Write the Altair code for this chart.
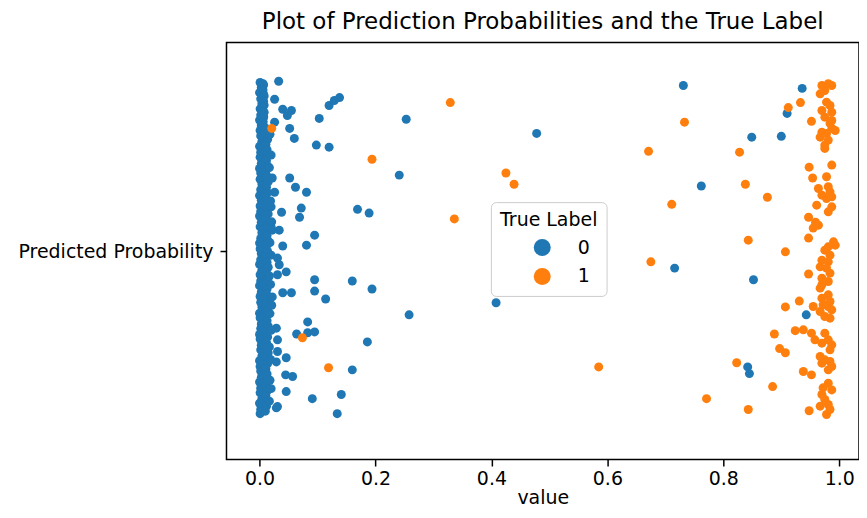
import altair as alt
import pandas as pd

# ---- Data (x = predicted probability, y = strip jitter offset) ----
# dense column of label-0 points near 0
col_a_x = [0.001,0.003,0.000,0.002,0.004,0.001,0.002,0.000,0.003,0.001,
           0.002,0.004,0.000,0.002,0.001,0.003,0.000,0.002,0.001,0.004,
           0.002,0.000,0.003,0.001,0.002,0.000,0.003,0.001,0.004,0.002,
           0.000,0.001,0.003,0.002,0.000,0.004,0.001,0.002,0.000,0.003,
           0.001,0.002,0.004,0.000,0.001,0.003,0.002,0.000,0.001,0.003,
           0.002,0.004,0.000,0.001,0.002,0.003,0.000,0.002,0.001,0.004,
           0.000,0.002,0.001]
col_a_y = [0.404,0.392,0.380,0.365,0.353,0.341,0.326,0.314,0.301,0.289,
           0.276,0.262,0.251,0.237,0.225,0.210,0.198,0.187,0.172,0.161,
           0.147,0.133,0.122,0.108,0.095,0.084,0.069,0.058,0.044,0.030,
           0.019,0.005,-0.006,-0.021,-0.032,-0.046,-0.057,-0.072,-0.083,-0.098,
           -0.109,-0.123,-0.134,-0.149,-0.160,-0.175,-0.186,-0.200,-0.211,-0.226,
           -0.237,-0.252,-0.263,-0.277,-0.288,-0.303,-0.314,-0.329,-0.340,-0.354,
           -0.365,-0.380,-0.390]
col_m_x = [0.006,0.005,0.007,0.006,0.008,0.005,0.007,0.006,0.005,0.007,
           0.006,0.008,0.005,0.007,0.006,0.005,0.008,0.006,0.007,0.005,
           0.006,0.008,0.007,0.005,0.006,0.007,0.005,0.008,0.006,0.007,
           0.005,0.006,0.008,0.007,0.005,0.006,0.007,0.008,0.005,0.006,
           0.007,0.005,0.006,0.008,0.007,0.005,0.006,0.007,0.008,0.005,
           0.006,0.007,0.005,0.008,0.006,0.007,0.005,0.006,0.008,0.007,
           0.005,0.006]
col_m_y = [0.401,0.388,0.376,0.362,0.350,0.337,0.323,0.311,0.298,0.285,
           0.272,0.259,0.247,0.233,0.221,0.207,0.195,0.182,0.169,0.156,
           0.143,0.130,0.118,0.104,0.092,0.079,0.066,0.053,0.041,0.027,
           0.015,0.002,-0.011,-0.024,-0.036,-0.049,-0.062,-0.075,-0.088,-0.100,
           -0.113,-0.126,-0.139,-0.152,-0.164,-0.177,-0.190,-0.203,-0.216,-0.228,
           -0.241,-0.254,-0.267,-0.280,-0.292,-0.305,-0.318,-0.331,-0.344,-0.356,
           -0.369,-0.382]
col_b_x = [0.007,0.006,0.008,0.007,0.006,0.008,0.007,0.006,0.010,0.012,
           0.014,0.011,0.013,0.015,0.012,0.014,0.011,0.013,0.015,0.012,
           0.014,0.011,0.013,0.012,0.015,0.011,0.014,0.012,0.013,0.015,
           0.012,0.014,0.011,0.013,0.015,0.012,0.014,0.011,0.013,0.012,
           0.015,0.011,0.014,0.012,0.013,0.015,0.011,0.014,0.012,0.013,
           0.015,0.012,0.014,0.011,0.013,0.015,0.012,0.014,0.011,0.013,
           0.012,0.010]
col_b_y = [0.398,0.386,0.372,0.359,0.347,0.333,0.320,0.307,0.295,0.282,
           0.268,0.256,0.243,0.230,0.217,0.204,0.192,0.179,0.166,0.153,
           0.140,0.127,0.114,0.102,0.089,0.076,0.063,0.050,0.037,0.024,
           0.012,-0.001,-0.014,-0.027,-0.039,-0.052,-0.065,-0.078,-0.091,-0.103,
           -0.116,-0.129,-0.142,-0.155,-0.167,-0.180,-0.193,-0.206,-0.219,-0.231,
           -0.244,-0.257,-0.270,-0.283,-0.295,-0.308,-0.321,-0.334,-0.347,-0.359,
           -0.372,-0.384]
col_c_x = [0.018,0.020,0.017,0.019,0.021,0.018,0.020,0.017,0.019,0.021,
           0.018,0.020,0.017,0.019,0.018,0.020,0.017]
col_c_y = [0.28,0.23,0.20,0.12,0.07,0.02,-0.01,-0.06,-0.08,-0.13,
           -0.15,-0.19,-0.23,-0.26,-0.31,-0.33,-0.36]

# scattered label-0 points
blue_x = [0.033,0.026,0.120,0.129,0.138,0.040,0.055,0.048,0.103,0.253,
          0.026,0.052,0.060,0.098,0.120,0.241,0.022,0.052,0.062,0.081,
          0.026,0.169,0.189,0.038,0.072,0.069,0.034,0.022,0.095,0.081,
          0.040,0.034,0.046,0.095,0.160,0.194,0.095,0.040,0.055,0.022,
          0.114,0.258,0.083,0.064,0.083,0.095,0.031,0.186,0.029,0.046,
          0.160,0.045,0.057,0.046,0.091,0.141,0.031,0.134,0.408,0.478,
          0.731,0.936,0.910,0.849,0.900,0.762,0.716,0.852,0.943,0.842,
          0.845,0.020,0.020,0.031,0.031,0.029,0.031,0.029]
blue_y = [0.407,0.364,0.349,0.361,0.368,0.340,0.337,0.325,0.318,0.316,
          0.309,0.294,0.270,0.254,0.249,0.182,0.175,0.175,0.153,0.141,
          0.141,0.100,0.091,0.093,0.103,0.081,0.050,0.050,0.038,0.014,
          0.012,-0.033,-0.050,-0.069,-0.072,-0.091,-0.096,-0.100,-0.100,-0.110,
          -0.115,-0.153,-0.170,-0.199,-0.196,-0.194,-0.213,-0.218,-0.266,-0.256,
          -0.285,-0.297,-0.301,-0.337,-0.354,-0.344,-0.373,-0.390,-0.124,0.282,
          0.397,0.390,0.330,0.273,0.275,0.156,-0.041,-0.069,-0.153,-0.278,
          -0.294,0.106,0.058,-0.017,-0.057,-0.185,-0.241,-0.376]

# scattered label-1 points
orange_x = [0.329,0.021,0.194,0.336,0.425,0.439,0.585,0.074,0.119,0.671,
            0.675,0.912,0.933,0.952,0.733,0.828,0.838,0.876,0.711,0.843,
            0.907,0.947,0.907,0.931,0.888,0.924,0.938,0.897,0.907,0.823,
            0.938,0.952,0.885,0.771,0.843,0.948,0.948,0.954,0.947,0.959,
            0.964,0.955,0.947]
orange_y = [0.356,0.294,0.220,0.077,0.187,0.160,-0.278,-0.208,-0.280,0.239,
            -0.026,0.344,0.356,0.311,0.309,0.237,0.160,0.129,0.112,0.026,
            -0.002,-0.055,-0.134,-0.120,-0.199,-0.191,-0.189,-0.234,-0.244,-0.268,
            -0.289,-0.297,-0.325,-0.354,-0.380,-0.383,0.201,0.175,0.081,0.069,
            0.062,0.055,0.031]
# dense column of label-1 points near 1
ocol_x = [0.970,0.981,0.987,0.967,0.975,0.978,0.984,0.970,0.987,0.975,
          0.987,0.984,0.987,0.970,0.978,0.993,0.967,0.981,0.975,0.975,
          0.987,0.978,0.964,0.981,0.984,0.970,0.978,0.987,0.961,0.987,
          0.981,0.990,0.993,0.981,
          0.975,0.984,0.970,0.981,0.967,0.978,0.984,0.970,0.981,0.970,
          0.967,0.981,0.970,0.984,0.972,0.981,0.987,0.967,0.975,0.984,
          0.955,0.952,0.975,0.958,0.970,0.981,0.987,0.984,0.967,0.975,
          0.970,0.984,0.987,0.981,0.981,0.972,0.987,0.970,0.975,0.981,
          0.967,0.984,0.978]
ocol_y = [0.397,0.401,0.397,0.377,0.385,0.357,0.349,0.337,0.333,0.321,
          0.313,0.306,0.294,0.285,0.282,0.289,0.273,0.266,0.254,0.246,
          0.206,0.178,0.150,0.154,0.142,0.134,0.126,0.130,0.110,0.106,
          0.094,0.022,0.014,0.010,
          0.002,-0.010,-0.022,-0.026,-0.038,-0.041,-0.053,-0.065,-0.073,-0.081,
          -0.089,-0.105,-0.113,-0.121,-0.129,-0.133,-0.141,-0.145,-0.157,-0.161,
          -0.133,-0.197,-0.197,-0.213,-0.221,-0.213,-0.225,-0.237,-0.253,-0.261,
          -0.269,-0.265,-0.277,-0.285,-0.317,-0.328,-0.333,-0.344,-0.356,-0.368,
          -0.372,-0.380,-0.392]

labels = ["0", "1"]
colors = ["#1f77b4", "#ff7f0e"]
x_ticks = [0.0, 0.2, 0.4, 0.6, 0.8, 1.0]

zero_x = col_a_x + col_m_x + col_b_x + col_c_x + blue_x
zero_y = col_a_y + col_m_y + col_b_y + col_c_y + blue_y
one_x = orange_x + ocol_x
one_y = orange_y + ocol_y

df = pd.DataFrame({
    "value": zero_x + one_x,
    "jitter": zero_y + one_y,
    "label": ["0"] * len(zero_x) + ["1"] * len(one_x),
})

FONT = "DejaVu Sans"

chart = alt.Chart(df).mark_circle(size=81, opacity=1, strokeWidth=0).encode(
    x=alt.X("value:Q",
            scale=alt.Scale(domain=[-0.057, 1.034], nice=False, zero=False),
            axis=alt.Axis(values=x_ticks, format=".1f", title="value",
                          grid=False, domain=False, tickSize=6.5, tickWidth=1.5,
                          tickColor="#000000", labelFontSize=19, labelColor="#000000",
                          labelPadding=4, titleFontSize=19, titleFontWeight="normal",
                          titleColor="#000000", titlePadding=0, labelFont=FONT,
                          titleFont=FONT)),
    y=alt.Y("jitter:Q",
            scale=alt.Scale(domain=[-0.5, 0.5], nice=False, zero=False),
            axis=alt.Axis(values=[0], labelExpr="'Predicted Probability'", title=None,
                          grid=False, domain=False, tickSize=6.5, tickWidth=1.5,
                          tickColor="#000000", labelFontSize=19, labelColor="#000000",
                          labelPadding=7, labelFont=FONT, labelLimit=0)),
    color=alt.Color("label:N",
                    scale=alt.Scale(domain=labels, range=colors),
                    legend=alt.Legend(title="True Label", orient="none",
                                      legendX=265, legendY=160,
                                      titleFontSize=19, titleFontWeight="normal",
                                      titleColor="#000000", titleFont=FONT,
                                      titleAnchor="middle", titlePadding=8,
                                      labelFontSize=19, labelColor="#000000",
                                      labelFont=FONT, symbolType="circle",
                                      symbolSize=289, symbolStrokeWidth=0,
                                      symbolOffset=25, labelOffset=26,
                                      rowPadding=9, padding=9,
                                      strokeColor="#cccccc", fillColor="#ffffff",
                                      cornerRadius=5)),
).properties(
    width=634,
    height=418,
    title=alt.TitleParams("Plot of Prediction Probabilities and the True Label",
                          fontSize=23, fontWeight="normal", font=FONT,
                          color="#000000", anchor="middle", offset=9),
    autosize=alt.AutoSizeParams(type="none"),
    padding={"left": 219, "top": 34, "right": 0, "bottom": 50},
).configure_view(
    stroke="#000000", strokeWidth=1.5
)

chart.save("out.html", embed_options={"renderer": "svg", "actions": False})
